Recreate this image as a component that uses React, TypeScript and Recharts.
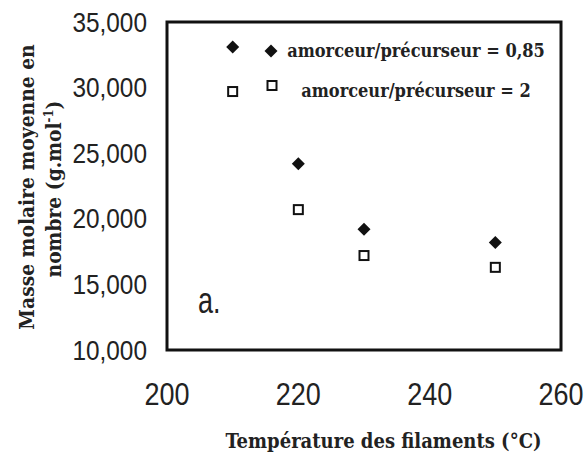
import React from 'react';
import { ScatterChart, Scatter, XAxis, YAxis, ReferenceArea, Legend } from 'recharts';

// ---- data ----
const seriesNames = ['amorceur/précurseur = 0,85', 'amorceur/précurseur = 2'];
const temperatures085 = [210, 220, 230, 250];
const masses085 = [33100, 24200, 19200, 18200];
const temperatures2 = [210, 220, 230, 250];
const masses2 = [29700, 20700, 17200, 16300];

const xTicks = [200, 220, 240, 260];
const xMinorTicks = [204, 208, 212, 216, 224, 228, 232, 236, 244, 248, 252, 256];
const xMajorInnerTicks = [220, 240];
const yTicks = [10000, 15000, 20000, 25000, 30000, 35000];
const yMinorTicks = [
  11000, 12000, 13000, 14000, 15000, 16000, 17000, 18000, 19000, 20000, 21000, 22000,
  23000, 24000, 25000, 26000, 27000, 28000, 29000, 30000, 31000, 32000, 33000, 34000,
];

const data085 = temperatures085.map((t, i) => ({ t, m: masses085[i] }));
const data2 = temperatures2.map((t, i) => ({ t, m: masses2[i] }));

const INK = '#111';
const SANS = '"Liberation Sans", Arial, sans-serif';
const SERIF_B = '"DejaVu Serif Condensed", "DejaVu Serif", serif';

const Diamond = (props: any) => {
  const { cx, cy } = props;
  if (cx == null || cy == null) return null;
  const w = 6.5;
  const h = 6.5;
  return <polygon points={`${cx},${cy - h} ${cx + w},${cy} ${cx},${cy + h} ${cx - w},${cy}`} fill={INK} />;
};

const Square = (props: any) => {
  const { cx, cy } = props;
  if (cx == null || cy == null) return null;
  return <rect x={cx - 4.5} y={cy - 4.5} width={9} height={9} fill="#fff" stroke={INK} strokeWidth={2} />;
};

const XTick = (props: any) => {
  const { x, y, payload } = props;
  return (
    <text
      transform={`translate(${x},${y}) scale(1,1.18)`}
      x={0}
      y={0}
      dy="0.355em"
      textAnchor="middle"
      fontFamily={SANS}
      fontSize={27}
      fill="#222"
    >
      {payload.value}
    </text>
  );
};

const YTick = (props: any) => {
  const { x, y, payload } = props;
  return (
    <text
      transform={`translate(${x},${y}) scale(1,1.1)`}
      x={0}
      y={0}
      dy="0.355em"
      textAnchor="end"
      fontFamily={SANS}
      fontSize={24.4}
      fill="#222"
    >
      {Number(payload.value).toLocaleString('en-US')}
    </text>
  );
};

const LegendContent = (props: any) => {
  const payload = props.payload || [];
  const rows = [
    { sy: 21, ty: 27 },
    { sy: 55.5, ty: 67 },
  ];
  return (
    <svg width={310} height={75}>
      {payload.slice(0, 2).map((entry: any, i: number) => (
        <g key={i}>
          {i === 0 ? <Diamond cx={16} cy={rows[i].sy} /> : <Square cx={17} cy={rows[i].sy} />}
          <text x={161} y={rows[i].ty} textAnchor="middle" fontFamily={SERIF_B} fontWeight="bold" fontSize={18} fill="#222">
            {entry.value}
          </text>
        </g>
      ))}
    </svg>
  );
};

const PanelLabel = (props: any) => {
  const vb = props.viewBox || {};
  return (
    <text
      transform={`translate(${vb.x + 31},${vb.y + vb.height - 37}) scale(1,1.35)`}
      x={0}
      y={0}
      fontFamily={SANS}
      fontSize={27}
      fill="#222"
    >
      a.
    </text>
  );
};

export default function App() {
  return (
    <div style={{ position: 'absolute', left: 0, top: 0, width: 584, height: 455, background: '#fff' }}>
      <ScatterChart width={584} height={455} margin={{ top: 22, right: 23, bottom: 45, left: 67 }}>
        <XAxis
          dataKey="t"
          type="number"
          domain={[200, 260]}
          ticks={xTicks}
          interval={0}
          axisLine={false}
          tickLine={false}
          tickSize={0}
          tickMargin={44}
          height={60}
          tick={<XTick />}
        />
        <XAxis
          xAxisId="minorX"
          type="number"
          domain={[200, 260]}
          ticks={xMinorTicks}
          interval={0}
          mirror
          height={0}
          axisLine={false}
          tick={false}
          tickSize={6}
          tickLine={{ stroke: INK, strokeWidth: 1.5 }}
        />
        <XAxis
          xAxisId="majorX"
          type="number"
          domain={[200, 260]}
          ticks={xMajorInnerTicks}
          interval={0}
          mirror
          height={0}
          axisLine={false}
          tick={false}
          tickSize={10}
          tickLine={{ stroke: INK, strokeWidth: 1.5 }}
        />
        <YAxis
          dataKey="m"
          type="number"
          domain={[10000, 35000]}
          ticks={yTicks}
          interval={0}
          axisLine={false}
          tickLine={false}
          tickSize={0}
          tickMargin={20}
          width={100}
          tick={<YTick />}
          label={{
            content: () => (
              <g>
                <text
                  transform="translate(34,187) rotate(-90)"
                  textAnchor="middle"
                  fontFamily={SERIF_B}
                  fontWeight="bold"
                  fontSize={20.8}
                  fill="#222"
                >
                  Masse molaire moyenne en
                </text>
                <text
                  transform="translate(61,189) rotate(-90)"
                  textAnchor="middle"
                  fontFamily={SERIF_B}
                  fontWeight="bold"
                  fontSize={20.8}
                  fill="#222"
                >
                  nombre (g.mol
                  <tspan fontSize={13} dy="-0.6em">-1</tspan>
                  <tspan dy="0.37em">)</tspan>
                </text>
              </g>
            ),
          }}
        />
        <YAxis
          yAxisId="minorY"
          type="number"
          domain={[10000, 35000]}
          ticks={yMinorTicks}
          interval={0}
          mirror
          width={0}
          axisLine={false}
          tick={false}
          tickSize={6}
          tickLine={{ stroke: INK, strokeWidth: 1.5 }}
        />
        <ReferenceArea
          x1={200}
          x2={260}
          y1={10000}
          y2={35000}
          fill="none"
          fillOpacity={0}
          stroke={INK}
          strokeWidth={3}
          ifOverflow="visible"
          label={<PanelLabel />}
        />
        <Legend
          layout="vertical"
          align="center"
          verticalAlign="middle"
          wrapperStyle={{ left: 255, top: 30, width: 310, height: 75 }}
          content={<LegendContent />}
        />
        <Scatter name={seriesNames[0]} data={data085} shape={<Diamond />} legendType="diamond" fill={INK} isAnimationActive={false} />
        <Scatter name={seriesNames[1]} data={data2} shape={<Square />} legendType="square" fill="#fff" isAnimationActive={false} />
      </ScatterChart>
      <div
        style={{
          position: 'absolute',
          left: 0,
          top: 429,
          width: 584,
          height: 24,
          fontFamily: SERIF_B,
          fontWeight: 'bold',
          fontSize: 20,
          color: '#222',
          lineHeight: '24px',
        }}
      >
        <span style={{ position: 'absolute', left: 383.5, transform: 'translateX(-50%)', whiteSpace: 'nowrap' }}>
          Température des filaments (°C)
        </span>
      </div>
    </div>
  );
}
